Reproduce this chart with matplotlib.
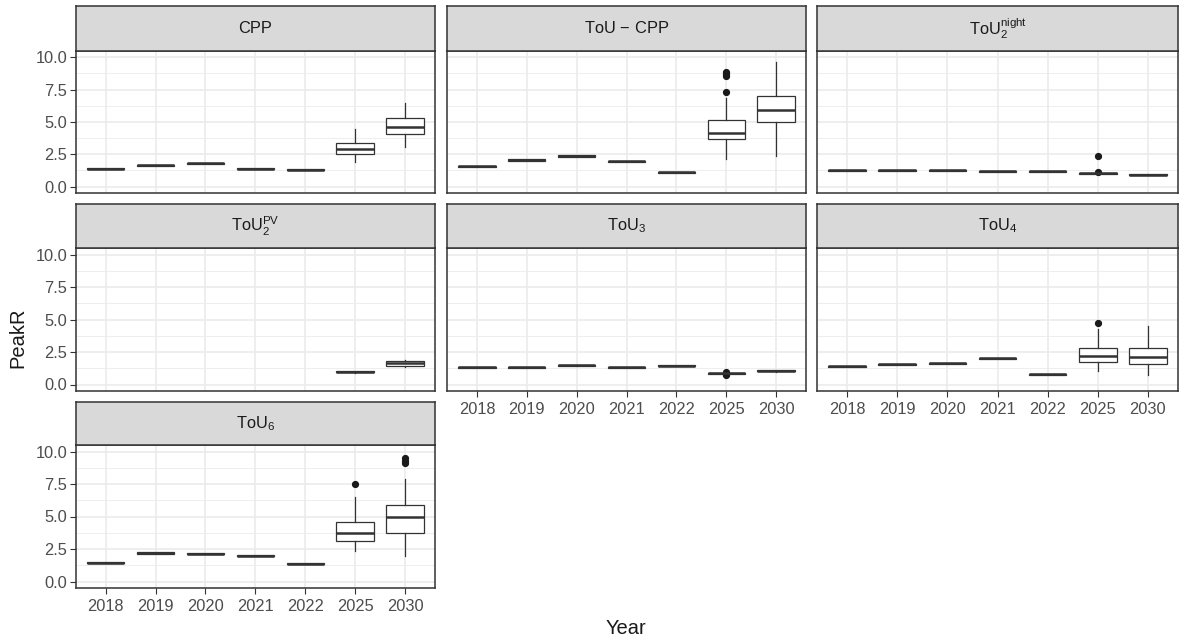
import matplotlib.pyplot as plt
import numpy as np

plt.rcParams["font.family"] = ["Liberation Sans", "DejaVu Sans"]
plt.rcParams["mathtext.fontset"] = "custom"
plt.rcParams["mathtext.rm"] = "Liberation Sans"
plt.rcParams["mathtext.it"] = "Liberation Sans:italic"

# ---------------------------------------------------------------------
#  Data: per panel, one row per year -> (whisker low, q1, median, q3, whisker high)
#  None = no data for that year
# ---------------------------------------------------------------------
years = ["2018", "2019", "2020", "2021", "2022", "2025", "2030"]

strip_labels = [
    "CPP",
    "ToU$\\,\u2212\\,$CPP",
    "$\\mathrm{ToU}_2^{\\mathrm{night}}$",
    "$\\mathrm{ToU}_2^{\\mathrm{PV}}$",
    "$\\mathrm{ToU}_3$",
    "$\\mathrm{ToU}_4$",
    "$\\mathrm{ToU}_6$",
]

cpp_stats = [(1.33, 1.33, 1.37, 1.41, 1.41), (1.59, 1.59, 1.63, 1.67, 1.67),
             (1.77, 1.77, 1.81, 1.85, 1.85), (1.33, 1.33, 1.37, 1.41, 1.41),
             (1.26, 1.26, 1.30, 1.34, 1.34), (1.89, 2.51, 2.87, 3.37, 4.48),
             (3.05, 4.07, 4.64, 5.26, 6.47)]
cpp_out = [[], [], [], [], [], [], []]

toucpp_stats = [(1.54, 1.54, 1.58, 1.62, 1.62), (2.01, 2.01, 2.05, 2.09, 2.09),
                (2.32, 2.32, 2.36, 2.40, 2.40), (1.93, 1.93, 1.97, 2.01, 2.01),
                (1.07, 1.07, 1.11, 1.15, 1.15), (2.15, 3.68, 4.17, 5.13, 6.81),
                (2.33, 4.97, 5.88, 7.02, 9.66)]
toucpp_out = [[], [], [], [], [], [7.28, 8.55, 8.7, 8.85], []]

night_stats = [(1.23, 1.23, 1.27, 1.31, 1.31), (1.23, 1.23, 1.27, 1.31, 1.31),
               (1.23, 1.23, 1.27, 1.31, 1.31), (1.15, 1.15, 1.19, 1.23, 1.23),
               (1.15, 1.15, 1.19, 1.23, 1.23), (0.99, 0.99, 1.03, 1.07, 1.07),
               (0.87, 0.87, 0.91, 0.95, 0.95)]
night_out = [[], [], [], [], [], [1.1, 2.38], []]

pv_stats = [None, None, None, None, None,
            (0.90, 0.95, 0.98, 1.01, 1.07),
            (1.31, 1.44, 1.62, 1.77, 1.88)]
pv_out = [[], [], [], [], [], [], []]

tou3_stats = [(1.30, 1.30, 1.34, 1.38, 1.38), (1.30, 1.30, 1.34, 1.38, 1.38),
              (1.45, 1.45, 1.49, 1.53, 1.53), (1.30, 1.30, 1.34, 1.38, 1.38),
              (1.40, 1.40, 1.44, 1.48, 1.48), (0.84, 0.84, 0.88, 0.92, 0.92),
              (0.97, 1.02, 1.06, 1.10, 1.15)]
tou3_out = [[], [], [], [], [], [0.72, 0.78, 1.0], []]

tou4_stats = [(1.38, 1.38, 1.42, 1.46, 1.46), (1.50, 1.50, 1.54, 1.58, 1.58),
              (1.58, 1.58, 1.62, 1.66, 1.66), (1.99, 1.99, 2.03, 2.07, 2.07),
              (0.76, 0.76, 0.80, 0.84, 0.84), (1.06, 1.73, 2.16, 2.80, 4.27),
              (0.72, 1.57, 2.08, 2.80, 4.47)]
tou4_out = [[], [], [], [], [], [4.76], []]

tou6_stats = [(1.39, 1.39, 1.43, 1.47, 1.47), (2.15, 2.15, 2.20, 2.25, 2.25),
              (2.08, 2.08, 2.12, 2.16, 2.16), (1.93, 1.93, 1.97, 2.01, 2.01),
              (1.31, 1.31, 1.35, 1.39, 1.39), (2.33, 3.13, 3.70, 4.57, 6.51),
              (1.99, 3.75, 4.99, 5.87, 7.88)]
tou6_out = [[], [], [], [], [], [7.47], [9.12, 9.28, 9.49]]

panel_stats = [cpp_stats, toucpp_stats, night_stats, pv_stats,
               tou3_stats, tou4_stats, tou6_stats]
panel_out = [cpp_out, toucpp_out, night_out, pv_out,
             tou3_out, tou4_out, tou6_out]

# ---------------------------------------------------------------------
#  Layout (pixel boxes of panel areas)
# ---------------------------------------------------------------------
W, H = 1182, 641
col_x = [(75.7, 435.0), (447.0, 806.0), (817.0, 1178.0)]
row_y = [(50.7, 193.0, 6.0), (248.0, 391.0, 204.0), (445.0, 588.0, 402.0)]

DARK = "#333333"
GRID = "#EBEBEB"
TXT = "#4D4D4D"

fig = plt.figure(figsize=(W / 100, H / 100), dpi=100)


def px_box(x0, x1, y0, y1):
    return [x0 / W, 1 - y1 / H, (x1 - x0) / W, (y1 - y0) / H]


positions = np.arange(1, len(years) + 1)

for i, (stats, outs) in enumerate(zip(panel_stats, panel_out)):
    r, c = divmod(i, 3)
    x0, x1 = col_x[c]
    y0, y1, ys = row_y[r]
    ax = fig.add_axes(px_box(x0, x1, y0, y1))

    # strip
    sax = fig.add_axes(px_box(x0, x1, ys, y0))
    sax.set_facecolor("#D9D9D9")
    sax.set_xticks([]); sax.set_yticks([])
    for sp in sax.spines.values():
        sp.set_color(DARK); sp.set_linewidth(1.1)
    sax.text(0.5, 0.5, strip_labels[i], ha="center", va="center",
             fontsize=11.8, color="#1A1A1A", transform=sax.transAxes)

    bxp = []
    pos = []
    for k, s in enumerate(stats):
        if s is None:
            continue
        lo, q1, med, q3, hi = s
        bxp.append(dict(whislo=lo, q1=q1, med=med, q3=q3, whishi=hi,
                        fliers=outs[k]))
        pos.append(positions[k])
    ax.bxp(bxp, positions=pos, widths=0.75, showcaps=False,
           patch_artist=True,
           boxprops=dict(facecolor="white", edgecolor=DARK, linewidth=0.9),
           medianprops=dict(color=DARK, linewidth=1.8),
           whiskerprops=dict(color=DARK, linewidth=0.9),
           flierprops=dict(marker="o", markersize=4.2, markerfacecolor="#1A1A1A",
                           markeredgecolor="#1A1A1A", linestyle="none"),
           zorder=3)

    ax.set_xlim(0.4, 7.6)
    ax.set_ylim(-0.5, 10.5)
    ax.set_xticks(positions)
    ax.set_yticks([0, 2.5, 5, 7.5, 10])
    ax.set_yticks([1.25, 3.75, 6.25, 8.75], minor=True)
    ax.grid(True, which="major", color=GRID, linewidth=1.2, zorder=0)
    ax.grid(True, which="minor", axis="y", color=GRID, linewidth=0.6, zorder=0)
    ax.set_axisbelow(True)
    for sp in ax.spines.values():
        sp.set_color(DARK); sp.set_linewidth(1.1)

    ax.tick_params(axis="both", which="major", direction="out", length=4,
                   width=0.8, color=DARK, labelsize=11.8, labelcolor=TXT, pad=2)
    ax.tick_params(axis="y", which="minor", length=0)

    if c == 0:
        ax.set_yticklabels(["0.0", "2.5", "5.0", "7.5", "10.0"])
    else:
        ax.tick_params(axis="y", which="major", left=False, labelleft=False)

    bottom_of_col = (r == 2) or (r == 1 and c > 0)
    if bottom_of_col:
        ax.set_xticklabels(years)
        ax.tick_params(axis="x", pad=4)
    else:
        ax.tick_params(axis="x", bottom=False, labelbottom=False)

fig.text(18 / W, 1 - 338 / H, "PeakR", rotation=90, ha="center", va="center",
         fontsize=14.5, color="#1A1A1A")
fig.text(626 / W, 1 - 628 / H, "Year", ha="center", va="center",
         fontsize=14.5, color="#1A1A1A")

fig.savefig("out.png", dpi=100, facecolor="white")
